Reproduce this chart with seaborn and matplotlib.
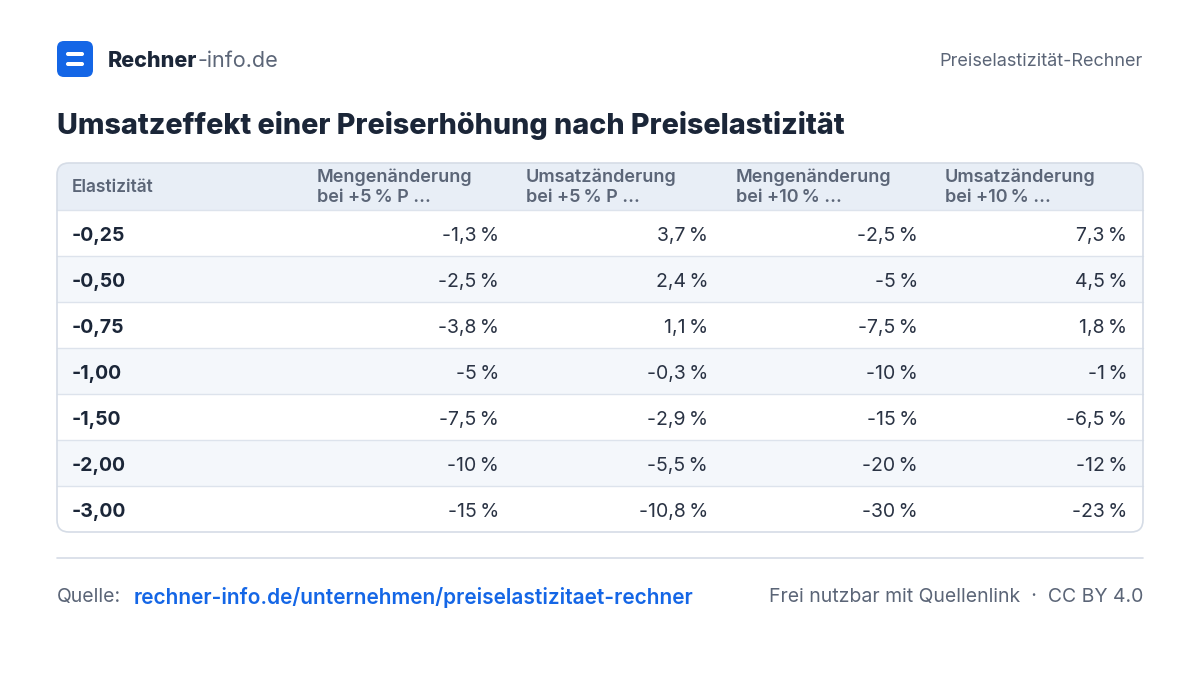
import matplotlib
matplotlib.use("Agg")
import matplotlib.pyplot as plt
import seaborn as sns
from matplotlib.patches import FancyBboxPatch, Rectangle

sns.set_theme(style="white")
plt.rcParams['font.family'] = ['Inter', 'DejaVu Sans']

title = "Umsatzeffekt einer Preiserhöhung nach Preiselastizität"
headers = ["Elastizität", "Mengenänderung\nbei +5\u202f% P ...", "Umsatzänderung\nbei +5\u202f% P ...",
           "Mengenänderung\nbei +10\u202f% ...", "Umsatzänderung\nbei +10\u202f% ..."]
elasticity = ["-0,25", "-0,50", "-0,75", "-1,00", "-1,50", "-2,00", "-3,00"]
qty5 = ["-1,3", "-2,5", "-3,8", "-5", "-7,5", "-10", "-15"]
rev5 = ["3,7", "2,4", "1,1", "-0,3", "-2,9", "-5,5", "-10,8"]
qty10 = ["-2,5", "-5", "-7,5", "-10", "-15", "-20", "-30"]
rev10 = ["7,3", "4,5", "1,8", "-1", "-6,5", "-12", "-23"]

fig = plt.figure(figsize=(12, 6.78), dpi=100)
ax = fig.add_axes([0, 0, 1, 1])
ax.set_xlim(0, 1200); ax.set_ylim(678, 0); ax.axis("off")

dark = "#1b2638"; grey = "#5b6577"; blue = "#1466e6"

# logo
ax.add_patch(FancyBboxPatch((57, 41), 36, 36, boxstyle="round,pad=0,rounding_size=7", fc=blue, ec="none"))
ax.add_patch(FancyBboxPatch((66, 52), 18, 4, boxstyle="round,pad=0,rounding_size=2", fc="white", ec="none"))
ax.add_patch(FancyBboxPatch((66, 62), 18, 4, boxstyle="round,pad=0,rounding_size=2", fc="white", ec="none"))
t = ax.text(108, 61, "Rechner", fontsize=15.5, fontweight="heavy", color=dark, va="center")
fig.canvas.draw()
bb = t.get_window_extent()
ax.text(108 + bb.width, 61, "-info.de", fontsize=15.5, color=grey, va="center")
ax.text(1143, 61, "Preiselastizität-Rechner", fontsize=13, color=grey, va="center", ha="right")
ax.text(57, 125, title, fontsize=20.7, fontweight="heavy", color=dark, va="center")

# table
x0, x1, ytop, hh, rh = 57, 1143, 163, 47, 46
ybot = ytop + hh + rh * len(elasticity)
clip = FancyBboxPatch((x0, ytop), x1 - x0, ybot - ytop, boxstyle="round,pad=0,rounding_size=12",
                      fc="white", ec="none", transform=ax.transData, zorder=1)
ax.add_patch(clip)
hdr = Rectangle((x0, ytop), x1 - x0, hh, fc="#e8eef6", ec="none", zorder=1.5)
ax.add_patch(hdr); hdr.set_clip_path(clip)
for i in range(len(elasticity)):
    y = ytop + hh + i * rh
    if i % 2 == 1:
        r = Rectangle((x0, y), x1 - x0, rh, fc="#f4f7fb", ec="none", zorder=1.5)
        ax.add_patch(r); r.set_clip_path(clip)
    ax.plot([x0, x1], [y, y], color="#dde3ec", lw=1, zorder=2)
ax.add_patch(FancyBboxPatch((x0, ytop), x1 - x0, ybot - ytop, boxstyle="round,pad=0,rounding_size=12",
                            fc="none", ec="#d5dce6", lw=1.2, zorder=3))

left_x = [72, 317, 526, 736, 945]
right_x = [None, 499, 708, 918, 1127]
for j, h in enumerate(headers):
    ax.text(left_x[j], ytop + hh / 2 + 1, h, fontsize=13 if j else 12.5, fontweight="semibold",
            color=grey, va="center", ha="left", linespacing=1.25, zorder=4)
cols = [qty5, rev5, qty10, rev10]
for i, e in enumerate(elasticity):
    yc = ytop + hh + i * rh + rh / 2 + 3
    ax.text(72, yc, e, fontsize=14, fontweight="bold", color=dark, va="center", zorder=4)
    for j, c in enumerate(cols):
        ax.text(right_x[j + 1], yc, c[i] + "\u202f%", fontsize=14, color="#2a3344",
                va="center", ha="right", zorder=4)

# footer
ax.plot([57, 1143], [558, 558], color="#d5dce6", lw=1.2)
ax.text(57, 597, "Quelle:", fontsize=14, color=grey, va="center")
ax.text(134, 597, "rechner-info.de/unternehmen/preiselastizitaet-rechner", fontsize=15,
        color=blue, fontweight="semibold", va="center")
ax.text(1143, 597, "Frei nutzbar mit Quellenlink  ·  CC BY 4.0", fontsize=14, color=grey,
        va="center", ha="right")

fig.savefig("out.png", dpi=100, facecolor="white")
